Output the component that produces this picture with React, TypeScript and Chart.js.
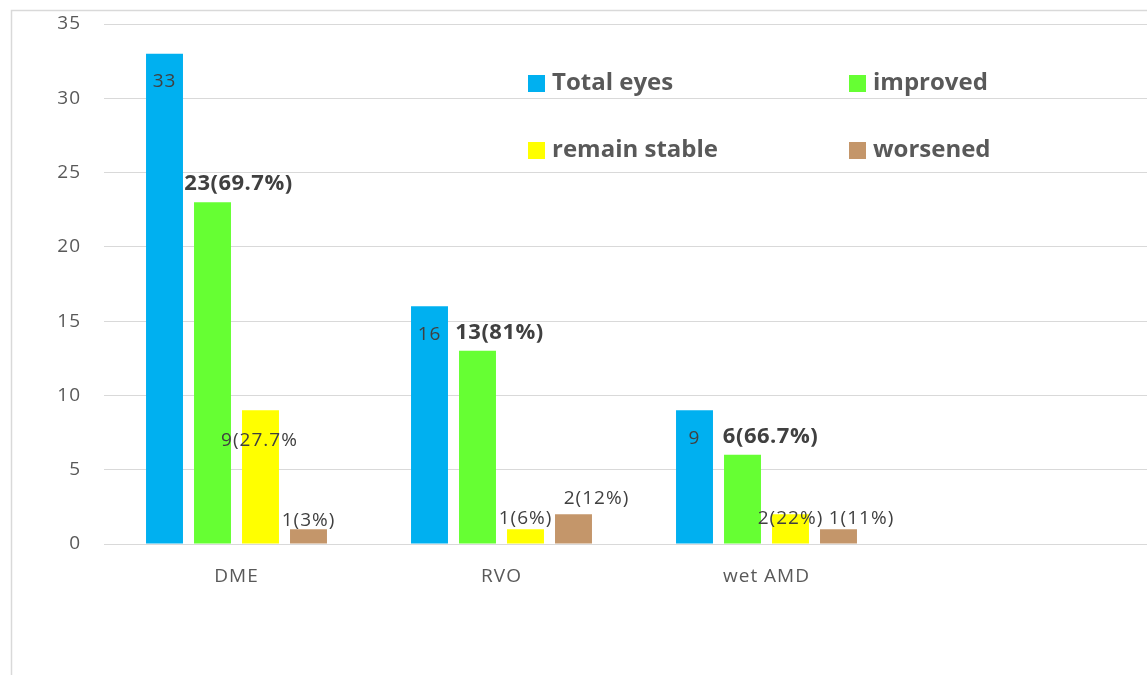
import React, { useEffect, useRef } from "react";
import { Chart, registerables } from "chart.js";

Chart.register(...registerables);

const categories = ["DME", "RVO", "wet AMD", ""];
const seriesNames = ["Total eyes", "improved", "remain stable", "worsened"];
const totalEyes = [33, 16, 9];
const improved = [23, 13, 6];
const remainStable = [9, 1, 2];
const worsened = [1, 2, 1];

const totalLabels = ["33", "16", "9"];
const improvedLabels = ["23(69.7%)", "13(81%)", "6(66.7%)"];
const stableLabels = ["9(27.7%", "1(6%)", "2(22%)"];
const worsenedLabels = ["1(3%)", "2(12%)", "1(11%)"];

const yTicks = { min: 0, max: 35, step: 5 };

const colors = ["#00B0F0", "#66FF33", "#FFFF00", "#C4966A"];

// label placement relative to bar top-centre [dx, dy]
const labelOffsets = [
  [[0, 28], [0, 28], [0, 28]],
  [[26, -19], [22, -18], [28, -18]],
  [[-1, 30], [0, -11], [0, 4]],
  [[0, -9], [23, -16], [23, -11]],
];
const labelTexts = [totalLabels, improvedLabels, stableLabels, worsenedLabels];
const FONT = "'Open Sans', 'Noto Sans', sans-serif";

const framePlugin = {
  id: "frame",
  beforeDraw(chart: any) {
    const ctx = chart.ctx;
    ctx.letterSpacing = "1px";
    ctx.save();
    ctx.fillStyle = "#ffffff";
    ctx.fillRect(0, 0, chart.width, chart.height);
    ctx.strokeStyle = "#d9d9d9";
    ctx.lineWidth = 1.5;
    ctx.strokeRect(11.5, 10.5, 3000, 3000);
    ctx.restore();
  },
};

const barLabelPlugin = {
  id: "barLabels",
  afterDatasetsDraw(chart: any) {
    const ctx = chart.ctx;
    ctx.save();
    ctx.textAlign = "center";
    ctx.textBaseline = "middle";
    ctx.fillStyle = "#404040";
    chart.data.datasets.forEach((ds: any, di: number) => {
      const meta = chart.getDatasetMeta(di);
      ctx.font = di === 1 ? `bold 22px ${FONT}` : `19px ${FONT}`;
      ctx.letterSpacing = di === 1 ? "0.5px" : "1px";
      meta.data.forEach((bar: any, i: number) => {
        const txt = labelTexts[di][i];
        if (!txt) return;
        const [dx, dy] = labelOffsets[di][i];
        ctx.fillText(txt, bar.x + dx, bar.y + dy);
      });
    });
    ctx.restore();
  },
};

const legendPlugin = {
  id: "gridLegend",
  afterDraw(chart: any) {
    const ctx = chart.ctx;
    const cols = [528, 849];
    const rows = [83.5, 150.5];
    ctx.save();
    ctx.letterSpacing = "0px";
    ctx.font = `bold 24px ${FONT}`;
    ctx.textBaseline = "middle";
    ctx.textAlign = "left";
    chart.data.datasets.forEach((ds: any, i: number) => {
      const x = cols[i % 2];
      const y = rows[Math.floor(i / 2)];
      ctx.fillStyle = ds.backgroundColor;
      ctx.fillRect(x, y - 8.5, 17, 17);
      ctx.fillStyle = "#595959";
      ctx.fillText(ds.label, x + 24, y);
    });
    ctx.restore();
  },
};

export default function App() {
  const ref = useRef<HTMLCanvasElement | null>(null);
  useEffect(() => {
    if (!ref.current) return;
    const series = [totalEyes, improved, remainStable, worsened];
    const chart = new Chart(ref.current, {
      type: "bar",
      data: {
        labels: categories,
        datasets: series.map((d, i) => ({
          label: seriesNames[i],
          data: d,
          backgroundColor: colors[i],
          borderWidth: 0,
          categoryPercentage: 0.7245,
          barPercentage: 0.77,
        })),
      },
      options: {
        responsive: false,
        animation: false,
        devicePixelRatio: 1,
        layout: { padding: { left: 0, top: 24, right: 16, bottom: 0 } },
        plugins: {
          legend: { display: false },
          tooltip: { enabled: false },
        },
        scales: {
          x: {
            grid: { display: false, drawTicks: false },
            border: { display: false },
            ticks: {
              color: "#595959",
              font: { family: FONT, size: 19 },
              padding: 21,
              maxRotation: 0,
            },
            afterFit: (s: any) => {
              s.height = 131;
            },
          },
          y: {
            min: yTicks.min,
            max: yTicks.max,
            grid: {
              color: "#d9d9d9",
              lineWidth: 1,
              drawTicks: true,
              tickLength: 23,
              tickColor: "rgba(0,0,0,0)",
            },
            border: { display: false },
            ticks: {
              stepSize: yTicks.step,
              color: "#595959",
              font: { family: FONT, size: 19 },
              padding: 0,
            },
            afterFit: (s: any) => {
              s.width = 104;
            },
          },
        },
      },
      plugins: [framePlugin, barLabelPlugin, legendPlugin],
    });
    return () => chart.destroy();
  }, []);
  return (
    <div
      style={{
        position: "fixed",
        left: 0,
        top: 0,
        width: 1147,
        height: 675,
        overflow: "hidden",
        background: "#fff",
      }}
    >
      <canvas
        ref={ref}
        width={1180}
        height={675}
        style={{ width: 1180, height: 675, display: "block" }}
      />
    </div>
  );
}
